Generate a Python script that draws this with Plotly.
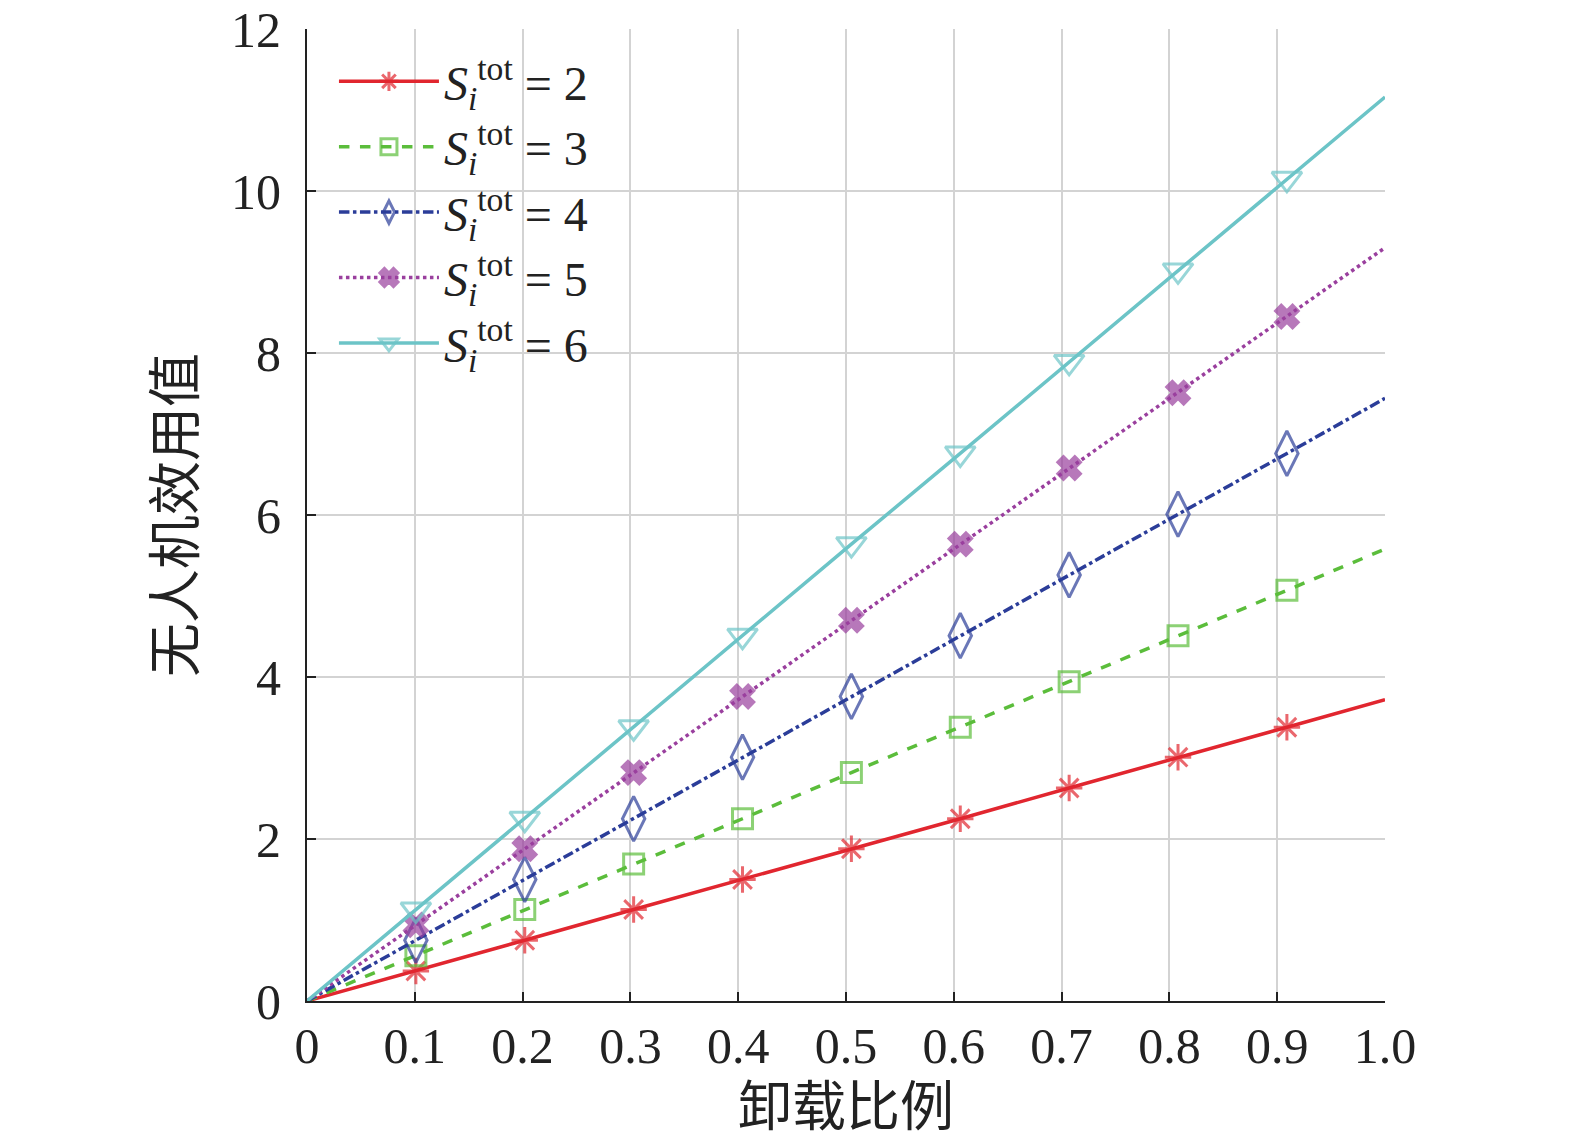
import plotly.graph_objects as go

# ----------------------------
# Data (offload ratio vs UAV utility)
# ----------------------------
ratio = [0, 0.101, 0.202, 0.303, 0.404, 0.505, 0.606, 0.707, 0.808, 0.909, 1.0]

s2 = [0, 0.37, 0.75, 1.13, 1.50, 1.88, 2.25, 2.63, 3.01, 3.38, 3.72]
s3 = [0, 0.56, 1.13, 1.69, 2.25, 2.82, 3.38, 3.94, 4.51, 5.07, 5.58]
s4 = [0, 0.75, 1.50, 2.25, 3.01, 3.76, 4.51, 5.26, 6.01, 6.76, 7.44]
s5 = [0, 0.94, 1.88, 2.82, 3.76, 4.70, 5.64, 6.58, 7.51, 8.45, 9.30]
s6 = [0, 1.13, 2.25, 3.38, 4.51, 5.64, 6.76, 7.89, 9.02, 10.15, 11.16]

x_ticks = [0, 0.1, 0.2, 0.3, 0.4, 0.5, 0.6, 0.7, 0.8, 0.9, 1.0]
x_labels = ['0', '0.1', '0.2', '0.3', '0.4', '0.5', '0.6', '0.7', '0.8', '0.9', '1.0']
y_ticks = [0, 2, 4, 6, 8, 10, 12]

series = [
    (2, s2, '#e1262f', 'solid', 'asterisk-open', 22),
    (3, s3, '#5bbd3b', 'dash', 'square-open', 20),
    (4, s4, '#2b3d99', 'dashdot', 'diamond-tall-open', 32),
    (5, s5, '#9a3f9e', 'dot', 'x', 20),
    (6, s6, '#6cc4c7', 'solid', 'triangle-down-open', 26),
]

serif = 'Liberation Serif, Times New Roman, serif'
cjk = 'Noto Sans CJK SC'

fig = go.Figure()

for s, vals, color, dash, symbol, size in series:
    # no marker at the two end points
    sizes = [0] + [size] * (len(ratio) - 2) + [0]
    fig.add_trace(go.Scatter(
        x=ratio,
        y=vals,
        mode='lines+markers',
        name=f'<i>S</i><sub><i>i</i></sub><sup>tot</sup> = {s}',
        line=dict(color=color, width=3.5, dash=dash),
        marker=dict(symbol=symbol, size=sizes, color=color,
                    line=dict(color=color, width=3)),
    ))

fig.update_layout(
    width=1567,
    height=1134,
    margin=dict(l=299, r=190, t=21, b=141),
    plot_bgcolor='white',
    paper_bgcolor='white',
    font=dict(family=serif, size=48, color='#222222'),
    legend=dict(
        x=0.025, y=0.985, xanchor='left', yanchor='top',
        bgcolor='rgba(255,255,255,0)',
        font=dict(family=serif, size=48, color='#222222'),
        tracegroupgap=0,
        itemwidth=100,
    ),
    xaxis=dict(
        range=[0, 1.0],
        tickvals=x_ticks,
        ticktext=x_labels,
        automargin=False,
        showgrid=True, gridcolor='#d3d3d3', gridwidth=1.5,
        showline=True, linecolor='#222222', linewidth=2,
        ticks='inside', ticklen=9, tickwidth=2, tickcolor='#222222',
        zeroline=False,
        tickfont=dict(family=serif, size=50),
        ticklabeloverflow='allow',
        title=dict(text='卸载比例', font=dict(family=cjk, size=54), standoff=9),
    ),
    yaxis=dict(
        range=[0, 12],
        tickvals=y_ticks,
        automargin=False,
        showgrid=True, gridcolor='#d3d3d3', gridwidth=1.5,
        showline=True, linecolor='#222222', linewidth=2,
        ticks='inside', ticklen=9, tickwidth=2, tickcolor='#222222',
        zeroline=False,
        tickfont=dict(family=serif, size=50),
        ticklabelstandoff=14,
        ticklabeloverflow='allow',
        title=dict(text='无人机效用值', font=dict(family=cjk, size=54), standoff=18),
    ),
)

fig.write_html('out.html')
